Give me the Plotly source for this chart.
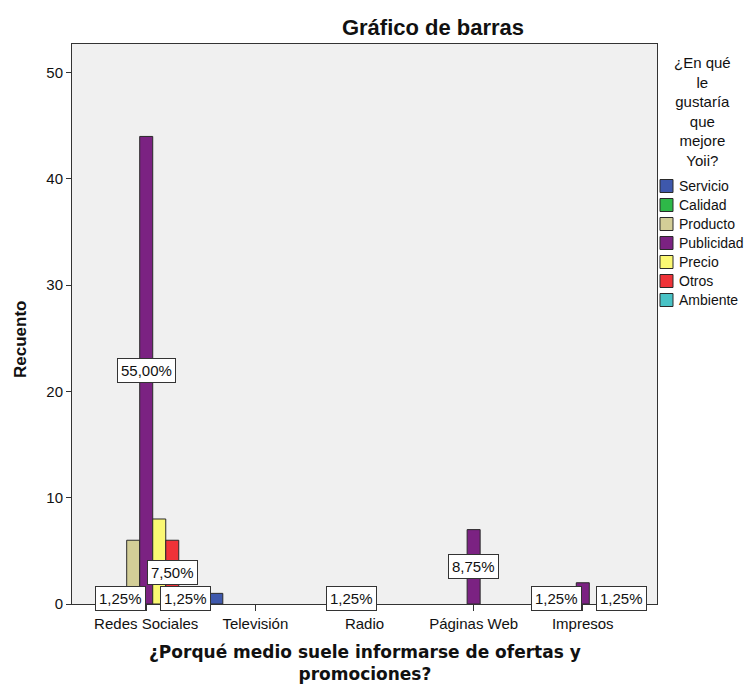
import plotly.graph_objects as go

# Categories on the x axis (medio de información)
medios = ["Redes Sociales", "Televisión", "Radio", "Páginas Web", "Impresos"]

# Counts per improvement area, one value per medio
servicio = [1, 1, 0, 0, 0]
calidad = [1, 0, 0, 0, 1]
producto = [6, 0, 1, 0, 0]
publicidad = [44, 0, 0, 7, 2]
precio = [8, 0, 0, 0, 0]
otros = [6, 0, 0, 0, 0]
ambiente = [1, 0, 0, 0, 1]

series_names = ["Servicio", "Calidad", "Producto", "Publicidad", "Precio", "Otros", "Ambiente"]
series_values = [servicio, calidad, producto, publicidad, precio, otros, ambiente]
series_colors = ["#3E58AC", "#2EB848", "#D3CE97", "#7B2282", "#FBF873", "#EF3338", "#48C2C5"]

# Bars that carry a percentage label: (medio index, series index)
labelled = [(0, 1), (0, 3), (0, 5), (0, 6), (2, 2), (3, 3), (4, 1), (4, 6)]

total = sum(sum(v) for v in series_values)
bargap = 0.165
n_series = len(series_names)
bar_w = (1 - bargap) / n_series

W, H = 746, 688
ML, MR, MT, MB = 72, 89, 44, 84
PW, PH = W - ML - MR, H - MT - MB


def px_x(x):
    return (x - ML) / PW


def px_y(y):
    return (H - MB - y) / PH


FONT = "Liberation Sans, Arial, sans-serif"
WIDE_BOLD = "DejaVu Sans, Verdana, sans-serif"
AXIS = "#333333"

fig = go.Figure()
for name, vals, col in zip(series_names, series_values, series_colors):
    fig.add_trace(go.Bar(
        x=medios, y=[v if v else None for v in vals], name=name,
        marker=dict(color=col, line=dict(color="#2a2a2a", width=1)),
        hoverinfo="x+y+name", showlegend=False,
    ))

annotations = []
shapes = []
for ci, si in labelled:
    v = series_values[si][ci]
    pct = f"{100 * v / total:.2f}%".replace(".", ",")
    annotations.append(dict(
        x=ci + (si - (n_series - 1) / 2) * bar_w, y=v / 2, xref="x", yref="y",
        text=pct, showarrow=False, font=dict(family=FONT, size=15, color="#111"),
        bgcolor="white", bordercolor=AXIS, borderwidth=1, borderpad=3,
    ))

# Axis titles
annotations.append(dict(
    x=px_x(365), y=px_y(663), xref="paper", yref="paper",
    xanchor="center", yanchor="middle",
    text="<b>¿Porqué medio suele informarse de ofertas y<br>promociones?</b>",
    showarrow=False, font=dict(family=WIDE_BOLD, size=17, color="#111"),
))
annotations.append(dict(
    x=px_x(20), y=px_y(340), xref="paper", yref="paper",
    xanchor="center", yanchor="middle", textangle=-90,
    text="<b>Recuento</b>", showarrow=False,
    font=dict(family=FONT, size=17, color="#111"),
))
# Legend heading
annotations.append(dict(
    x=px_x(702), y=px_y(111), xref="paper", yref="paper",
    xanchor="center", yanchor="middle",
    text="¿En qué<br>le<br>gustaría<br>que<br>mejore<br>Yoii?",
    showarrow=False, align="center",
    font=dict(family=FONT, size=15, color="#111"),
))
# Legend entries
for k, (name, col) in enumerate(zip(series_names, series_colors)):
    yc = 186 + 19 * k
    shapes.append(dict(
        type="rect", xref="paper", yref="paper",
        x0=px_x(660), x1=px_x(673), y0=px_y(yc + 6.5), y1=px_y(yc - 6.5),
        fillcolor=col, line=dict(color="#2a2a2a", width=1),
    ))
    annotations.append(dict(
        x=px_x(677), y=px_y(yc), xref="paper", yref="paper",
        xanchor="left", yanchor="middle", text=name, showarrow=False,
        font=dict(family=FONT, size=14, color="#111"),
    ))

fig.update_layout(
    width=W, height=H,
    margin=dict(l=ML, r=MR, t=MT, b=MB, autoexpand=False),
    paper_bgcolor="white", plot_bgcolor="#F0F0F0",
    barmode="group", bargap=bargap, bargroupgap=0,
    title=dict(text="<b>Gráfico de barras</b>", x=433 / W, xref="container",
               y=1 - 27 / H, yanchor="middle", xanchor="center",
               font=dict(family=FONT, size=22, color="#111")),
    font=dict(family=FONT, size=15, color="#111"),
    showlegend=False,
    annotations=annotations,
    shapes=shapes,
)
fig.update_xaxes(
    range=[-0.68, 4.68], showline=True, linecolor=AXIS, linewidth=1, mirror=True,
    ticks="outside", ticklen=6, tickcolor=AXIS, showgrid=False,
    tickfont=dict(family=FONT, size=15, color="#111"),
)
fig.update_yaxes(
    range=[0, 52.7], showline=True, linecolor=AXIS, linewidth=1, mirror=True,
    ticks="outside", ticklen=5, tickcolor=AXIS, showgrid=False, zeroline=False,
    tickvals=[0, 10, 20, 30, 40, 50],
    tickfont=dict(family=FONT, size=15, color="#111"),
)

fig.write_html("out.html")
